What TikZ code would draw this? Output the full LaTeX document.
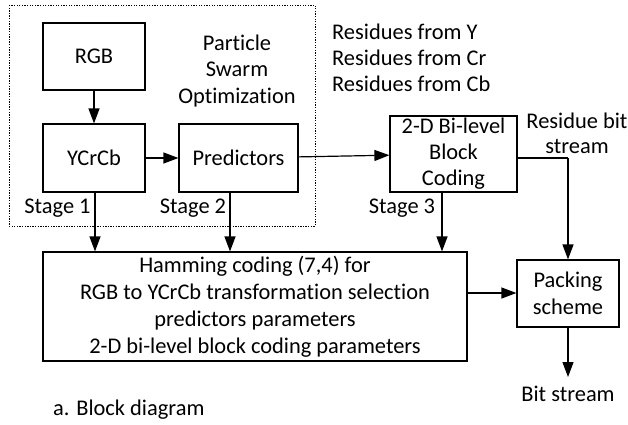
\documentclass[tikz,border=0pt]{standalone}
\usepackage{fontspec}
\setmainfont{Carlito}[Ligatures=NoCommon]
\usetikzlibrary{arrows.meta}
\begin{document}
\begin{tikzpicture}[x=1bp,y=-1bp,
  every node/.style={font=\fontsize{22.5}{26.5}\selectfont, inner sep=0pt},
  blk/.style={draw, line width=1.2bp, align=center, inner sep=0pt},
  arr/.style={line width=1.2bp, -{Triangle[length=15bp,width=11bp]}},
  ln/.style={line width=1.2bp},
  lbl/.style={align=center}]
\useasboundingbox (0,0) rectangle (628,424);
% dotted PSO region
\draw[line width=1bp, dash pattern=on 1.3bp off 1.3bp] (9,5) rectangle (315,226);
\node[lbl, font=\fontsize{22.5}{27}\selectfont] (pso) at (237,71) {Particle\\Swarm\\Optimization};
% blocks
\node[blk, minimum width=102bp, minimum height=67bp] (rgb) at (94,56.5) {RGB};
\node[blk, minimum width=102bp, minimum height=68bp] (ycc) at (94,158) {YCrCb};
\node[blk, minimum width=119bp, minimum height=68bp] (pred) at (238.5,158) {Predictors};
\node[blk, minimum width=127bp, minimum height=76bp, font=\fontsize{22.5}{26}\selectfont] (bl) at (453.5,154) {2-D Bi-level\\Block\\Coding};
\node[blk, minimum width=424bp, minimum height=109bp, font=\fontsize{22.5}{27}\selectfont] (ham) at (255,306.5)
  {Hamming coding (7,4) for\\RGB to YCrCb transformation selection\\predictors parameters\\2-D bi-level block coding parameters};
\node[blk, minimum width=102bp, minimum height=67bp, font=\fontsize{22.5}{27}\selectfont] (pack) at (568,293.5) {Packing\\scheme};
% texts
\node[anchor=west, align=left, font=\fontsize{22.5}{26.3}\selectfont] (res) at (332,58) {Residues from Y\\Residues from Cr\\Residues from Cb};
\node[lbl, font=\fontsize{22.5}{25}\selectfont] (rbs) at (577,133.5) {Residue bit\\stream};
\node (s1) at (57.5,208) {Stage 1};
\node (s2) at (193,208) {Stage 2};
\node (s3) at (402,208) {Stage 3};
\node (bs) at (568,394) {Bit stream};
\node[anchor=west] (cap) at (53,410) {a. Block diagram};
% connectors
\draw[arr] (rgb) -- (ycc);
\draw[arr] (ycc) -- (pred);
\draw[arr] (pred) -- (bl);
\draw[arr] (ycc.south -| 95,0) -- (ham.north -| 95,0);
\draw[arr] (pred.south -| 230,0) -- (ham.north -| 230,0);
\draw[arr] (bl.south -| 442,0) -- (ham.north -| 442,0);
\coordinate (bend) at (568,158);
\draw[ln] (bl.east |- bend) -- (bend);
\draw[arr] (bend) -- (pack.north);
\draw[arr] (ham.east |- 0,293) -- (pack.west |- 0,293);
\coordinate (bsTop) at (568,377);
\draw[arr] (pack.south) -- (bsTop);
\end{tikzpicture}
\end{document}
